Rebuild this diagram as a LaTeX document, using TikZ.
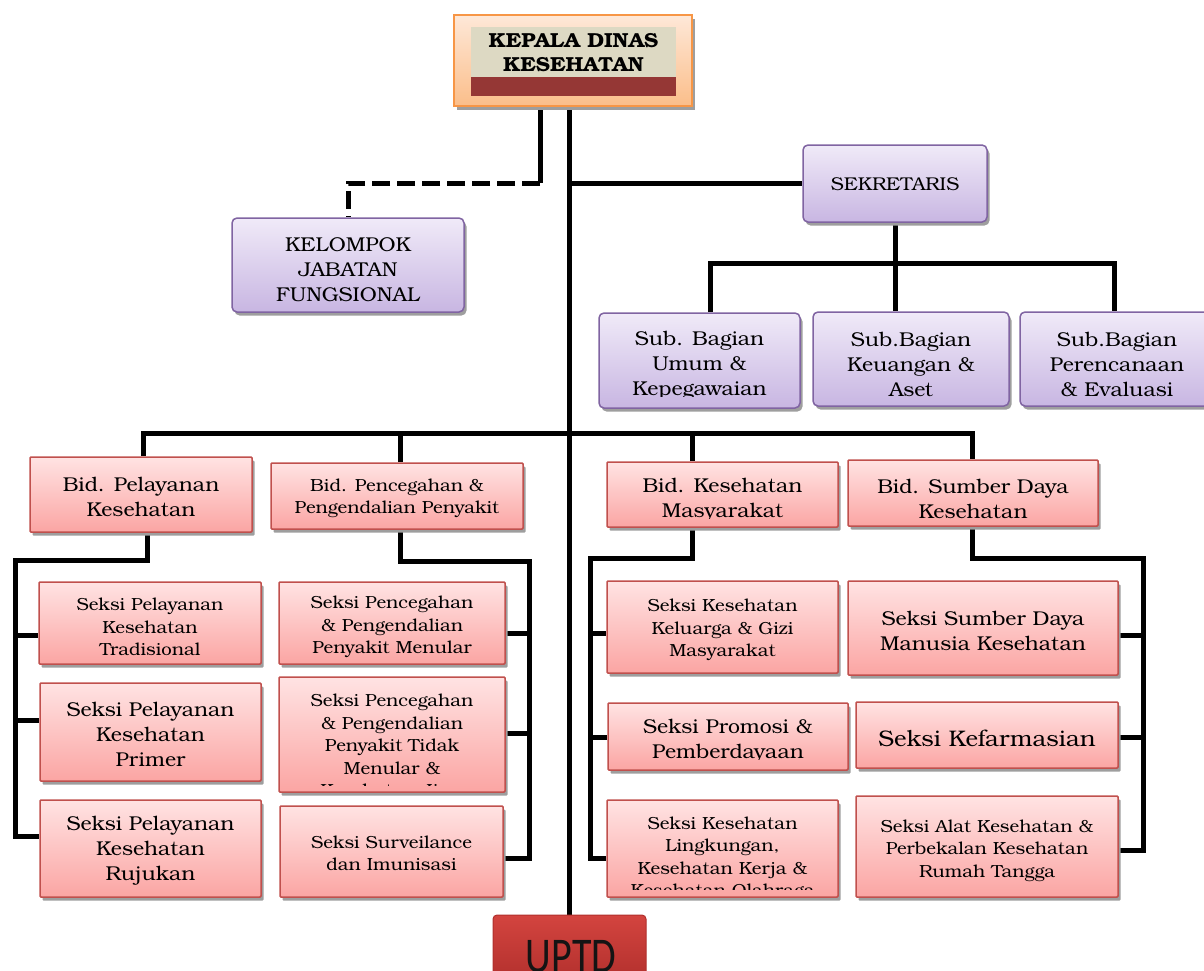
\documentclass[tikz,border=0pt]{standalone}
\usepackage{fontspec}
\setmainfont{texgyrebonum-regular.otf}[BoldFont=texgyrebonum-bold.otf, FakeStretch=1.06]
\newfontfamily\carlito{Carlito}
\usetikzlibrary{shadows,backgrounds}
\definecolor{pborder}{HTML}{8064A2}
\definecolor{ptop}{HTML}{F0EAF8}
\definecolor{pbot}{HTML}{C8B6E2}
\definecolor{rborder}{HTML}{C0504D}
\definecolor{rtop}{HTML}{FFE3E3}
\definecolor{rbot}{HTML}{FBA5A3}
\definecolor{oborder}{HTML}{F79646}
\definecolor{otop}{HTML}{FEE8D8}
\definecolor{obot}{HTML}{FBBE8A}
\definecolor{beige}{HTML}{DDD9C3}
\definecolor{darkred}{HTML}{953735}
\definecolor{utop}{HTML}{D3443F}
\definecolor{ubot}{HTML}{B02F2C}
\tikzset{
  conn/.style={line width=5pt, black},
  dconn/.style={conn, dash pattern=on 18pt off 7pt},
  shad/.style={drop shadow={shadow xshift=2.5pt, shadow yshift=-3.5pt, fill=black!38, opacity=1}},
  pbox/.style={draw=pborder, line width=1.5pt, rounded corners=5pt, top color=ptop, bottom color=pbot, shad, inner sep=0pt},
  rbox/.style={draw=rborder, line width=1.5pt, rounded corners=1pt, top color=rtop, bottom color=rbot, shad, inner sep=0pt},
  txt/.style={align=center, inner sep=0pt},
  fa/.style={font=\fontsize{20}{25}\selectfont},
  fb/.style={font=\fontsize{17.5}{22.5}\selectfont},
  fc/.style={font=\fontsize{22.5}{27}\selectfont},
}
\begin{document}
\begin{tikzpicture}[x=1pt,y=-1pt]
\useasboundingbox (0,0) rectangle (1204,970);
% head
\node[draw=oborder, line width=2pt, top color=otop, bottom color=obot, shad, minimum width=238pt, minimum height=91pt, inner sep=0pt] (kd) at (573,60.5) {};
\node[fill=beige, minimum width=205pt, minimum height=50pt, inner sep=0pt] (kdin) at (573.5,52) {};
\node[fill=darkred, minimum width=205pt, minimum height=19pt, inner sep=0pt] (kdbar) at (573.5,86.5) {};
\node[txt, font=\bfseries\fontsize{20.3}{24}\selectfont] (kdt) at (573.5,53) {KEPALA DINAS\\KESEHATAN};
% purple boxes
\node[pbox, minimum width=232pt, minimum height=94pt] (kjf) at (348,265) {};
\node[txt, fa] (kjft) at (348,269.5) {KELOMPOK\\JABATAN\\FUNGSIONAL};
\node[pbox, minimum width=184pt, minimum height=77pt] (sek) at (895,183.5) {};
\node[txt, font=\fontsize{18.5}{24}\selectfont] (sekt) at (895,184.5) {SEKRETARIS};
\node[pbox, minimum width=201pt, minimum height=95pt] (sub1) at (699.5,360.5) {};
\begin{scope}
\clip (599,313) rectangle (800,396);
\node[txt, fa] (sub1t) at (699.5,365.5) {Sub. Bagian\\Umum \&\\Kepegawaian};
\end{scope}
\node[pbox, minimum width=196pt, minimum height=94pt] (sub2) at (911,359) {};
\node[txt, fa] (sub2t) at (911,364) {Sub.Bagian\\Keuangan \&\\Aset};
\node[pbox, minimum width=194pt, minimum height=94pt] (sub3) at (1117,359) {};
\node[txt, fa] (sub3t) at (1117,364) {Sub.Bagian\\Perencanaan\\\& Evaluasi};
% bidang
\node[rbox, minimum width=222pt, minimum height=75pt] (bid1) at (141,494.5) {};
\node[txt, fa] (bid1t) at (141,496.5) {Bid. Pelayanan\\Kesehatan};
\node[rbox, minimum width=252pt, minimum height=66pt] (bid2) at (397,496) {};
\node[txt, fb] (bid2t) at (397,498.5) {Bid. Pencegahan \&\\Pengendalian Penyakit};
\node[rbox, minimum width=231pt, minimum height=65pt] (bid3) at (722.5,494.5) {};
\begin{scope}
\clip (607,462) rectangle (838,518);
\node[txt, fa] (bid3t) at (722.5,500) {Bid. Kesehatan\\Masyarakat};
\end{scope}
\node[rbox, minimum width=250pt, minimum height=66pt] (bid4) at (973,493) {};
\node[txt, fa] (bid4t) at (973,498.5) {Bid. Sumber Daya\\Kesehatan};
% seksi group 1
\node[rbox, minimum width=222pt, minimum height=82pt] (s11) at (150,623) {};
\node[txt, fb] (s11t) at (150,627) {Seksi Pelayanan\\Kesehatan\\Tradisional};
\node[rbox, minimum width=221pt, minimum height=98pt] (s12) at (150.5,732) {};
\node[txt, fa] (s12t) at (150.5,734) {Seksi Pelayanan\\Kesehatan\\Primer};
\node[rbox, minimum width=221pt, minimum height=97pt] (s13) at (150.5,848.5) {};
\node[txt, fa] (s13t) at (150.5,851) {Seksi Pelayanan\\Kesehatan\\Rujukan};
% group 2
\node[rbox, minimum width=226pt, minimum height=82pt] (s21) at (392,623) {};
\node[txt, fb] (s21t) at (392,627) {Seksi Pencegahan\\\& Pengendalian\\Penyakit Menular};
\node[rbox, minimum width=226pt, minimum height=115pt] (s22) at (392,734.5) {};
\begin{scope}
\clip (279,677) rectangle (505,785);
\node[txt, fb] (s22t) at (392,745.5) {Seksi Pencegahan\\\& Pengendalian\\Penyakit Tidak\\Menular \&\\Kesehatan Jiwa};
\end{scope}
\node[rbox, minimum width=223pt, minimum height=91pt] (s23) at (391.5,851.5) {};
\node[txt, fb] (s23t) at (391.5,853.5) {Seksi Surveilance\\dan Imunisasi};
% group 3
\node[rbox, minimum width=231pt, minimum height=92pt] (s31) at (722.5,627) {};
\node[txt, fb] (s31t) at (722.5,630) {Seksi Kesehatan\\Keluarga \& Gizi\\Masyarakat};
\node[rbox, minimum width=240pt, minimum height=67pt] (s32) at (728,736.5) {};
\begin{scope}
\clip (608,703) rectangle (848,759);
\node[txt, fa] (s32t) at (728,741) {Seksi Promosi \&\\Pemberdayaan};
\end{scope}
\node[rbox, minimum width=231pt, minimum height=97pt] (s33) at (722.5,848.5) {};
\begin{scope}
\clip (607,800) rectangle (838,889);
\node[txt, fb] (s33t) at (722.5,859) {Seksi Kesehatan\\Lingkungan,\\Kesehatan Kerja \&\\Kesehatan Olahraga};
\end{scope}
% group 4
\node[rbox, minimum width=270pt, minimum height=94pt] (s41) at (983,628) {};
\node[txt, fa] (s41t) at (983,630.5) {Seksi Sumber Daya\\Manusia Kesehatan};
\node[rbox, minimum width=262pt, minimum height=66pt] (s42) at (987,735) {};
\node[txt, fc] (s42t) at (987,738) {Seksi Kefarmasian};
\node[rbox, minimum width=262pt, minimum height=101pt] (s43) at (987,846.5) {};
\node[txt, fb] (s43t) at (987,850.5) {Seksi Alat Kesehatan \&\\Perbekalan Kesehatan\\Rumah Tangga};
% UPTD
\node[draw=ubot, line width=1pt, rounded corners=4pt, top color=utop, bottom color=ubot, minimum width=153pt, minimum height=70pt, inner sep=0pt] (uptd) at (569.5,950) {};
\node[anchor=base, inner sep=0pt, xscale=0.8, font=\carlito\fontsize{50}{56}\selectfont, text=black!92] (uptdt) at (571,972) {UPTD};
% connectors
\begin{scope}[on background layer]
\coordinate (dj) at (540,183);
\draw[conn] (kd.south -| dj) -- (dj);
\draw[dconn] (dj) -| (kjf.north);
\draw[conn] (kd.south -| uptd.north) -- (uptd.north);
\draw[conn] (sek.west -| uptd.north) -- (sek.west);
\coordinate (sb) at (sek.south |- 0,263);
\draw[conn] (sek.south) -- (sb);
\draw[conn] (sub1.north -| 710,0) |- (sb) -| (sub3.north -| 1114,0);
\draw[conn] (sb) -- (sub2.north -| sb);
\draw[conn] (bid1.north -| 143,0) |- (uptd.north |- 0,433) -| (bid4.north -| 972,0);
\draw[conn] (bid2.north -| 400,0) -- (400,433);
\draw[conn] (bid3.north -| 692,0) -- (692,433);
% group 1
\draw[conn] (bid1.south -| 147,0) |- (15,560) -- (15,836) -- (s13.west |- 0,836);
\draw[conn] (15,635) -- (s11.west |- 0,635);
\draw[conn] (15,720) -- (s12.west |- 0,720);
% group 2
\draw[conn] (bid2.south -| 400,0) |- (529,561) -- (529,858) -- (s23.east |- 0,858);
\draw[conn] (529,633) -- (s21.east |- 0,633);
\draw[conn] (529,733) -- (s22.east |- 0,733);
% group 3
\draw[conn] (bid3.south -| 692,0) |- (590,558) -- (590,858) -- (s33.west |- 0,858);
\draw[conn] (590,633) -- (s31.west |- 0,633);
\draw[conn] (590,737) -- (s32.west |- 0,737);
% group 4
\draw[conn] (bid4.south -| 972,0) |- (1143,558) -- (1143,850) -- (s43.east |- 0,850);
\draw[conn] (1143,635) -- (s41.east |- 0,635);
\draw[conn] (1143,737) -- (s42.east |- 0,737);
\end{scope}
\end{tikzpicture}
\end{document}
